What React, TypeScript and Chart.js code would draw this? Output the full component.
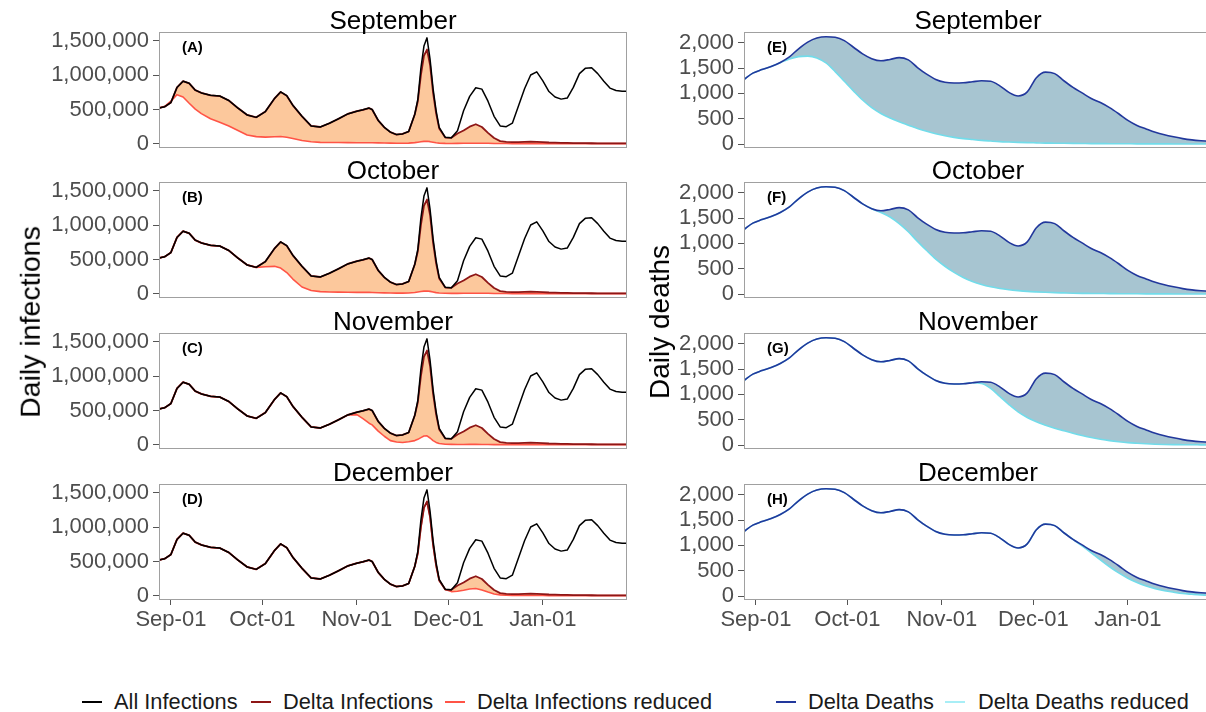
import React, { useEffect, useRef } from 'react';
import { Chart, registerables } from 'chart.js';
Chart.register(...registerables);

// ---------- DATA ----------
// Day offsets from 2021-09-01 (Sep-01 = 0, Oct-01 = 30, Nov-01 = 61, Dec-01 = 91, Jan-01 = 122)
const INF_DAYS = [-4,-2,0,2,4,6,8,10, 13,16,19,22,25,28,31,34, 36,38,40,43,46,49,52,55, 58,61,63,65,66,68,70,72, 74,76,78,80,81,82,83,84, 85,86,87,88,90,92,94,96, 98,100,102,104,106,108,110,112, 114,116,118,120,122,124,126,128, 130,132,134,136,138,140,142,144, 146,148,150];

// Daily infections, in thousands
const ALL_INFECTIONS = [520,540,600,820,910,880,780,740, 705,695,630,520,420,385,470,660, 755,700,560,400,260,245,300,365, 435,475,495,520,500,340,240,170, 135,145,180,430,650,1100,1420,1540, 1230,800,480,240,95,90,190,480, 690,815,795,620,400,260,250,300, 550,800,1000,1046,914,760,680,650, 665,820,1020,1100,1105,1020,910,810, 775,765,765];
const DELTA_INFECTIONS = [520,540,600,820,910,880,780,740, 705,695,630,520,420,385,470,660, 755,700,560,400,260,245,300,365, 435,475,495,520,500,340,240,170, 135,145,180,430,620,1000,1280,1370, 1150,740,440,225,92,88,150,195, 250,285,245,160,85,40,28,25, 26,30,34,30,25,20,17,15, 13,12,11,10,9,8,7,7, 6,6,6];
const DELTA_INF_REDUCED_SEP = [520,545,620,715,680,590,505,440, 365,315,260,195,130,105,98,104, 108,95,78,48,30,22,20,19, 18,17,17,16,16,14,12,11, 10,10,11,18,24,30,36,38, 32,24,16,11,7,6,7,8, 9,10,9,8,6,5,5,4, 4,4,4,4,3,3,3,3, 3,3,3,3,3,3,3,3, 3,3,3];
const DELTA_INF_REDUCED_OCT = [520,540,600,820,910,880,780,740, 705,695,630,520,420,385,395,400, 375,310,215,100,50,32,27,25, 23,22,21,21,20,17,14,12, 11,11,13,20,27,34,40,42, 36,27,18,12,8,7,7,8, 9,10,9,8,6,5,5,4, 4,4,4,4,3,3,3,3, 3,3,3,3,3,3,3,3, 3,3,3];
const DELTA_INF_REDUCED_NOV = [520,540,600,820,910,880,780,740, 705,695,630,520,420,385,470,660, 755,700,560,400,260,245,300,365, 435,440,380,315,290,200,125,62, 42,35,45,62,80,105,128,132, 100,62,36,20,9,7,6,6, 7,7,6,5,4,4,4,4, 3,3,3,3,3,3,3,3, 3,3,3,3,3,3,3,3, 3,3,3];
const DELTA_INF_REDUCED_DEC = [520,540,600,820,910,880,780,740, 705,695,630,520,420,385,470,660, 755,700,560,400,260,245,300,365, 435,475,495,520,500,340,240,170, 135,145,180,430,620,1000,1280,1370, 1150,740,440,225,92,62,68,82, 100,108,85,55,28,14,9,7, 6,6,6,5,5,4,3,3, 3,3,3,3,3,3,3,3, 3,3,3];

const DEATH_DAYS = [-4,-1,2,5,8,11,14,17,20,23, 26,29,32,35,38,41,44,47,50,53, 56,59,62,65,68,71,74,77,80,83, 86,89,92,95,98,101,104,107,110,113, 116,119,122,125,128,131,134,137,140,143, 146,149,152];
const DELTA_DEATHS = [1270,1400,1470,1530,1610,1720,1880,2010,2090,2115, 2105,2040,1910,1780,1685,1643,1670,1705,1660,1510, 1380,1275,1220,1205,1210,1230,1250,1240,1150,1020, 950,1030,1310,1420,1390,1250,1120,1010,900,820, 720,600,470,370,300,235,185,145,110,85, 68,55,45];
const DELTA_DEATHS_REDUCED_SEP = [1270,1400,1470,1530,1605,1680,1725,1735,1700,1600, 1430,1240,1050,870,720,605,515,440,375,310, 255,205,165,135,110,92,75,62,50,42, 35,30,26,22,20,18,16,14,12,11, 10,9,8,7,7,6,6,5,5,5, 4,4,4];
const DELTA_DEATHS_REDUCED_OCT = [1270,1400,1470,1530,1610,1720,1880,2010,2090,2115, 2105,2040,1910,1780,1685,1610,1520,1390,1230,1040, 860,690,550,430,330,250,190,145,112,88, 70,55,45,37,30,25,20,17,15,13, 11,10,9,8,7,6,6,5,5,5, 4,4,4];
const DELTA_DEATHS_REDUCED_NOV = [1270,1400,1470,1530,1610,1720,1880,2010,2090,2115, 2105,2040,1910,1780,1685,1643,1670,1705,1660,1510, 1380,1275,1220,1205,1210,1230,1215,1120,960,800, 655,545,460,395,335,285,235,190,150,118, 90,68,50,38,28,20,15,12,10,8, 7,6,5];
const DELTA_DEATHS_REDUCED_DEC = [1270,1400,1470,1530,1610,1720,1880,2010,2090,2115, 2105,2040,1910,1780,1685,1643,1670,1705,1660,1510, 1380,1275,1220,1205,1210,1230,1250,1240,1150,1020, 950,1030,1310,1420,1390,1250,1120,990,855,715, 580,460,355,270,200,148,108,78,52,38, 26,20,16];

const X_TICK_DAYS = [0, 30, 61, 91, 122];
const X_TICK_LABELS = ['Sep-01', 'Oct-01', 'Nov-01', 'Dec-01', 'Jan-01'];
const INF_TICKS = [0, 500, 1000, 1500]; // thousands
const DEATH_TICKS = [0, 500, 1000, 1500, 2000];
const MONTHS = ['September', 'October', 'November', 'December'];
const LEFT_TAGS = ['(A)', '(B)', '(C)', '(D)'];
const RIGHT_TAGS = ['(E)', '(F)', '(G)', '(H)'];

const INF_REDUCED = [DELTA_INF_REDUCED_SEP, DELTA_INF_REDUCED_OCT, DELTA_INF_REDUCED_NOV, DELTA_INF_REDUCED_DEC];
const DEATH_REDUCED = [DELTA_DEATHS_REDUCED_SEP, DELTA_DEATHS_REDUCED_OCT, DELTA_DEATHS_REDUCED_NOV, DELTA_DEATHS_REDUCED_DEC];

// ---------- STYLE / LAYOUT ----------
const FONT = "'Liberation Sans', Arial, Helvetica, sans-serif";
const TICK_TEXT = '#4d4d4d';
const TICK_LINE = '#555555';
const BOX_W = 468;
const BOX_H = 116;
const PAD = 22;
const ROW_TOPS = [32, 182, 333, 484];
const LEFT_BOX_X = 159;
const RIGHT_BOX_X = 744;
const X_MIN = -3.9;
const X_MAX = 149.6;
const INF_FILL = '#fcc89c';
const DEATH_FILL = '#a7c5d1';
const C_ALL = '#000000';
const C_DELTA = '#8e1616';
const C_DELTA_RED = '#ff5446';
const C_DEATH = '#22389c';
const C_DEATH_RED = '#72dcea';

const boxPlugin = {
  id: 'panelBox',
  afterDatasetsDraw(chart: any) {
    const { ctx, chartArea: a } = chart;
    ctx.save();
    ctx.strokeStyle = '#a0a0a0';
    ctx.lineWidth = 1;
    ctx.strokeRect(Math.round(a.left) + 0.5, Math.round(a.top) + 0.5, Math.round(a.right - a.left) - 1, Math.round(a.bottom - a.top) - 1);
    ctx.restore();
  },
};

function Panel({ kind, row }: { kind: 'inf' | 'death'; row: number }) {
  const ref = useRef<HTMLCanvasElement | null>(null);
  const isInf = kind === 'inf';
  const bottom = row === 3;
  const yw = isInf ? 159 : 110;
  const left = (isInf ? LEFT_BOX_X : RIGHT_BOX_X) - yw;
  const width = yw + BOX_W + 6;
  const xh = bottom ? 40 : 0;
  const padBottom = bottom ? 0 : PAD;
  const height = PAD + BOX_H + xh + padBottom;
  const top = ROW_TOPS[row] - PAD;

  useEffect(() => {
    const days = isInf ? INF_DAYS : DEATH_DAYS;
    const pts = (arr: number[]) => days.map((d, i) => ({ x: d, y: arr[i] }));
    const datasets: any[] = isInf
      ? [
          { label: 'All Infections', data: pts(ALL_INFECTIONS), borderColor: C_ALL, borderWidth: 1.5, order: 1, fill: false },
          { label: 'Delta Infections', data: pts(DELTA_INFECTIONS), borderColor: C_DELTA, borderWidth: 1.8, order: 2, fill: false },
          { label: 'Delta Infections reduced', data: pts(INF_REDUCED[row]), borderColor: C_DELTA_RED, borderWidth: 1.6, order: 3, fill: { target: 1, above: INF_FILL, below: INF_FILL } },
        ]
      : [
          { label: 'Delta Deaths', data: pts(DELTA_DEATHS), borderColor: C_DEATH, borderWidth: 1.6, order: 1, fill: false, cubicInterpolationMode: 'monotone' },
          { label: 'Delta Deaths reduced', data: pts(DEATH_REDUCED[row]), borderColor: C_DEATH_RED, borderWidth: 1.6, order: 2, cubicInterpolationMode: 'monotone', fill: { target: 0, above: DEATH_FILL, below: DEATH_FILL } },
        ];
    const chart = new Chart(ref.current as HTMLCanvasElement, {
      type: 'line',
      data: { datasets },
      plugins: [boxPlugin],
      options: {
        animation: false,
        responsive: false,
        maintainAspectRatio: false,
        events: [],
        layout: { padding: { top: PAD, left: 0, right: 6, bottom: padBottom } },
        elements: { point: { radius: 0 }, line: { tension: 0, borderJoinStyle: 'round', borderCapStyle: 'round' } },
        plugins: {
          legend: { display: false },
          tooltip: { enabled: false },
          title: { display: false },
          filler: { drawTime: 'beforeDatasetsDraw' },
        },
        scales: {
          x: {
            type: 'linear',
            min: X_MIN,
            max: X_MAX,
            grid: { display: bottom, drawOnChartArea: false, drawTicks: true, tickLength: 5, color: TICK_LINE, lineWidth: 1 },
            border: { display: false },
            ticks: {
              display: bottom,
              autoSkip: false,
              maxRotation: 0,
              minRotation: 0,
              padding: 2,
              font: { family: FONT, size: 22 },
              color: TICK_TEXT,
              callback: (v: any) => {
                const i = X_TICK_DAYS.indexOf(Number(v));
                return i >= 0 ? X_TICK_LABELS[i] : '';
              },
            },
            afterBuildTicks: (s: any) => {
              s.ticks = X_TICK_DAYS.map((v) => ({ value: v }));
            },
            afterFit: (s: any) => {
              s.height = xh;
            },
          },
          y: {
            type: 'linear',
            min: isInf ? -60 : -75,
            max: isInf ? 1625 : 2210,
            grid: { display: true, drawOnChartArea: false, drawTicks: true, tickLength: 6, color: TICK_LINE, lineWidth: 1 },
            border: { display: false },
            ticks: {
              autoSkip: false,
              padding: 4,
              font: { family: FONT, size: 22 },
              color: TICK_TEXT,
              callback: (v: any) => (isInf ? Number(v) * 1000 : Number(v)).toLocaleString('en-US'),
            },
            afterBuildTicks: (s: any) => {
              s.ticks = (isInf ? INF_TICKS : DEATH_TICKS).map((v) => ({ value: v }));
            },
            afterFit: (s: any) => {
              s.width = yw;
            },
          },
        },
      } as any,
    });
    return () => chart.destroy();
  }, []);

  return (
    <canvas
      ref={ref}
      width={width}
      height={height}
      style={{ position: 'absolute', left, top, width, height, display: 'block' }}
    />
  );
}

const LEGEND_ITEMS = [
  { label: 'All Infections', color: C_ALL, lineX: 82, textX: 114 },
  { label: 'Delta Infections', color: C_DELTA, lineX: 251, textX: 283 },
  { label: 'Delta Infections reduced', color: C_DELTA_RED, lineX: 445, textX: 477 },
  { label: 'Delta Deaths', color: C_DEATH, lineX: 776, textX: 808 },
  { label: 'Delta Deaths reduced', color: '#a8eef6', lineX: 945, textX: 978 },
];

export default function App() {
  const rows = [0, 1, 2, 3];
  return (
    <div
      style={{
        position: 'absolute',
        left: 0,
        top: 0,
        width: 1206,
        height: 712,
        overflow: 'hidden',
        background: '#ffffff',
        fontFamily: FONT,
      }}
    >
      {rows.map((r) => (
        <Panel key={'inf' + r} kind="inf" row={r} />
      ))}
      {rows.map((r) => (
        <Panel key={'death' + r} kind="death" row={r} />
      ))}
      {rows.map((r) => (
        <React.Fragment key={'t' + r}>
          <div style={{ position: 'absolute', left: LEFT_BOX_X + BOX_W / 2, top: ROW_TOPS[r] - 12, transform: 'translate(-50%,-50%)', fontSize: 26, lineHeight: 1, whiteSpace: 'nowrap', color: '#000' }}>
            {MONTHS[r]}
          </div>
          <div style={{ position: 'absolute', left: RIGHT_BOX_X + BOX_W / 2, top: ROW_TOPS[r] - 12, transform: 'translate(-50%,-50%)', fontSize: 26, lineHeight: 1, whiteSpace: 'nowrap', color: '#000' }}>
            {MONTHS[r]}
          </div>
          <div style={{ position: 'absolute', left: LEFT_BOX_X + 23, top: ROW_TOPS[r] + 14, transform: 'translateY(-50%)', fontSize: 15, fontWeight: 'bold', lineHeight: 1, color: '#000' }}>
            {LEFT_TAGS[r]}
          </div>
          <div style={{ position: 'absolute', left: RIGHT_BOX_X + 23, top: ROW_TOPS[r] + 14, transform: 'translateY(-50%)', fontSize: 15, fontWeight: 'bold', lineHeight: 1, color: '#000' }}>
            {RIGHT_TAGS[r]}
          </div>
        </React.Fragment>
      ))}
      <div style={{ position: 'absolute', left: 30, top: 322, transform: 'translate(-50%,-50%) rotate(-90deg)', fontSize: 28.5, lineHeight: 1, whiteSpace: 'nowrap', color: '#000' }}>
        Daily infections
      </div>
      <div style={{ position: 'absolute', left: 660, top: 322, transform: 'translate(-50%,-50%) rotate(-90deg)', fontSize: 28, lineHeight: 1, whiteSpace: 'nowrap', color: '#000' }}>
        Daily deaths
      </div>
      {LEGEND_ITEMS.map((it) => (
        <React.Fragment key={it.label}>
          <div style={{ position: 'absolute', left: it.lineX, top: 701, width: 20, height: 2, background: it.color }} />
          <div style={{ position: 'absolute', left: it.textX, top: 702, transform: 'translateY(-50%)', fontSize: 21.8, lineHeight: 1, whiteSpace: 'nowrap', color: '#1a1a1a' }}>
            {it.label}
          </div>
        </React.Fragment>
      ))}
    </div>
  );
}
